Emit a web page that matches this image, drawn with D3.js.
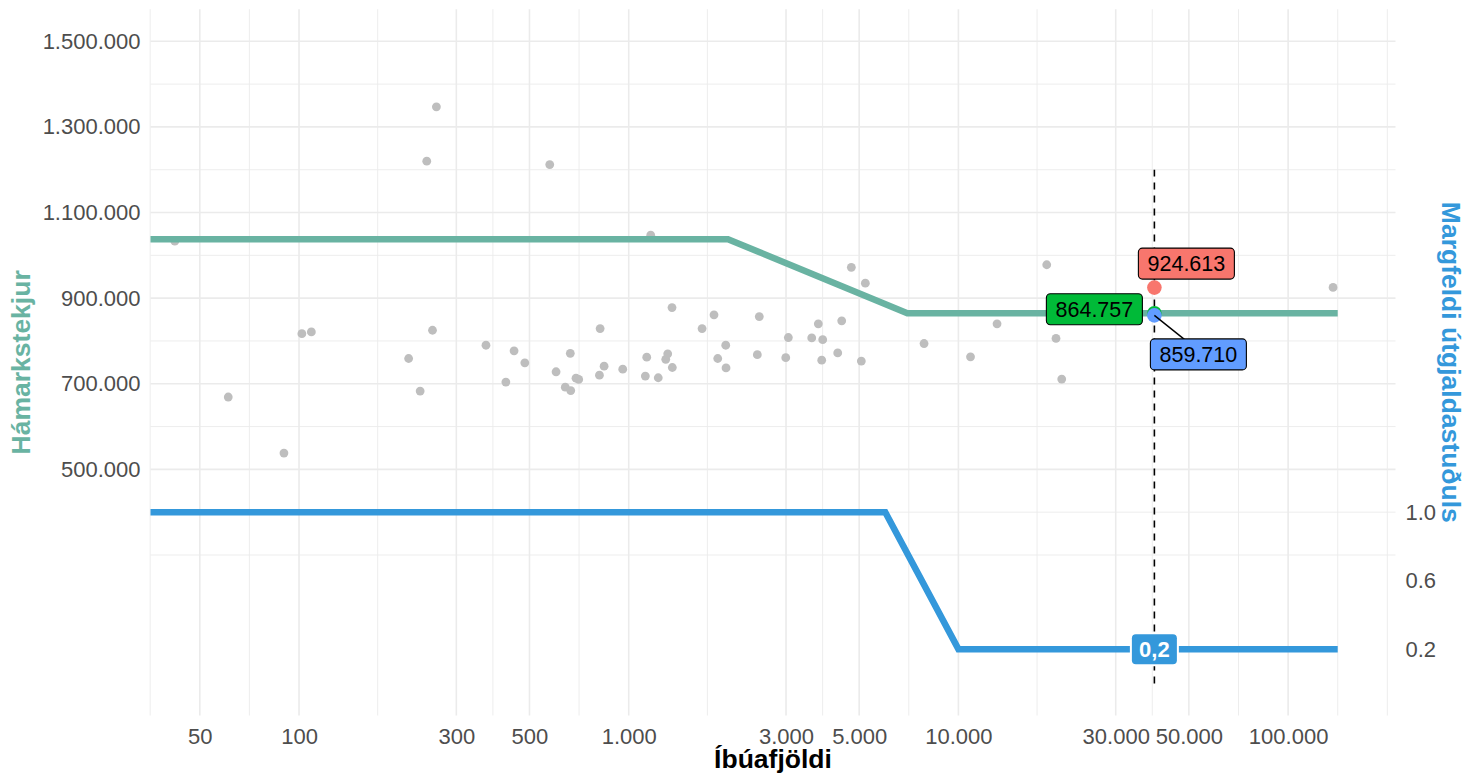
<!DOCTYPE html>
<html>
<head>
<meta charset="utf-8">
<script src="https://cdn.jsdelivr.net/npm/d3@7"></script>
<style>
  body { margin: 0; background: #fff; }
  text { font-family: "Liberation Sans", Arial, Helvetica, sans-serif; }
</style>
</head>
<body>
<script>
// municipalities: population vs max income
var population = [42, 61, 90, 102, 109, 215, 233, 244, 254, 261, 369, 424, 449, 484, 576,
  602, 642, 665, 667, 692, 705, 819, 815, 842, 959, 1123, 1134, 1166, 1229, 1295, 1313,
  1353, 1356, 1669, 1814, 1862, 1969, 1973, 2489, 2455, 2994, 3049, 3590, 3759, 3876,
  3849, 4304, 4426, 4734, 5220, 5076, 7866, 10882, 13096, 18530, 19770, 20575, 136860];
var income = [1033000, 669000, 538000, 817000, 821000, 759000, 683000, 1220000, 825000,
  1347000, 790000, 704000, 777000, 749000, 1212000, 728000, 692000, 771000, 684000, 713000,
  710000, 829000, 720000, 741000, 734000, 718000, 762000, 1047000, 714000, 757000, 770000,
  878000, 738000, 829000, 861000, 759000, 790000, 737000, 857000, 768000, 761000, 808000,
  807000, 840000, 803000, 755000, 772000, 847000, 972000, 935000, 753000, 794000, 763000,
  840000, 978000, 806000, 711000, 925000];

// rule lines
var capX = [35, 2000, 7000, 141400];
var capY = [1037708, 1037708, 864757, 864757];
var multX = [35, 6000, 10000, 141400];
var multY = [1, 1, 0.2, 0.2];

// highlighted municipality
var focusPop = 39300;
var focusVals = [924613, 864757, 859710];
var focusCols = ["#F8766D", "#00BA38", "#619CFF"];
var focusMult = 0.2;

var xTicks = [50, 100, 300, 500, 1000, 3000, 5000, 10000, 30000, 50000, 100000];
var yTicks = [500000, 700000, 900000, 1100000, 1300000, 1500000];
var y2Ticks = [0.2, 0.6, 1.0];
var secScale = 400000;

var W = 1465, H = 776;
var pL = 150.5, pR = 1395.5, pT = 9.2, pB = 715.5;

var is = d3.formatLocale({decimal: ",", thousands: ".", grouping: [3], currency: ["", ""]});
var fmt = is.format(",d");

var x = d3.scaleLog().domain([35.44, 211700]).range([pL, pR]);
var y = d3.scaleLinear().domain([-75000, 1575000]).range([pB, pT]);
var y2 = d3.scaleLinear().domain([-75000 / secScale, 1575000 / secScale]).range([pB, pT]);

var svg = d3.select("body").append("svg").attr("width", W).attr("height", H);

svg.append("defs").append("clipPath").attr("id", "panel")
  .append("rect").attr("x", pL).attr("y", pT)
  .attr("width", pR - pL).attr("height", pB - pT);

// grid: majors plus log-space midpoints (ggplot style)
var xl = xTicks.map(Math.log10);
var step = xl[1] - xl[0];
var xb = [xl[0] - step].concat(xl, [xl[xl.length - 1] + step]);
var xGrid = [];
xb.forEach(function (d, i) {
  xGrid.push(d);
  if (i < xb.length - 1) xGrid.push((d + xb[i + 1]) / 2);
});
xGrid = xGrid.map(function (d) { return Math.pow(10, d); })
  .filter(function (d) { return x(d) >= pL - 1 && x(d) <= pR; });
var yGrid = d3.range(300000, 1500001, 100000);

var grid = svg.append("g");
grid.selectAll("line.h").data(yGrid).enter().append("line")
  .attr("x1", pL).attr("x2", pR)
  .attr("y1", function (d) { return y(d); }).attr("y2", function (d) { return y(d); })
  .attr("stroke", "#ebebeb").attr("stroke-width", function (d) { return yTicks.indexOf(d) >= 0 ? 1.6 : 0.9; });
grid.selectAll("line.v").data(xGrid).enter().append("line")
  .attr("y1", pT).attr("y2", pB)
  .attr("x1", function (d) { return x(d); }).attr("x2", function (d) { return x(d); })
  .attr("stroke", "#ebebeb")
  .attr("stroke-width", function (d) {
    return xTicks.some(function (t) { return Math.abs(t - d) / t < 1e-6; }) ? 1.6 : 0.9;
  });

var panel = svg.append("g").attr("clip-path", "url(#panel)");

panel.selectAll("circle.pt").data(population).enter().append("circle")
  .attr("cx", function (d) { return x(d); })
  .attr("cy", function (d, i) { return y(income[i]); })
  .attr("r", 4.4).attr("fill", "#bebebe");

var capLine = d3.line().x(function (d) { return x(d[0]); }).y(function (d) { return y(d[1]); });
var multLine = d3.line().x(function (d) { return x(d[0]); }).y(function (d) { return y2(d[1]); });

panel.append("path").datum(d3.zip(capX, capY)).attr("d", capLine)
  .attr("fill", "none").attr("stroke", "#69b3a2").attr("stroke-width", 6.5);
panel.append("path").datum(d3.zip(multX, multY)).attr("d", multLine)
  .attr("fill", "none").attr("stroke", "#3498db").attr("stroke-width", 6.5);

// vertical marker
panel.append("line")
  .attr("x1", x(focusPop)).attr("x2", x(focusPop))
  .attr("y1", y(0)).attr("y2", y(1200000))
  .attr("stroke", "#000").attr("stroke-width", 1.6).attr("stroke-dasharray", "7,6");

// multiplier label
var mx = x(focusPop), my = y2(focusMult);
panel.append("rect").attr("x", mx - 22.5).attr("y", my - 15).attr("width", 45).attr("height", 30)
  .attr("rx", 4).attr("fill", "#3498db").attr("stroke", "#fff").attr("stroke-width", 4);
panel.append("rect").attr("x", mx - 22.5).attr("y", my - 15).attr("width", 45).attr("height", 30)
  .attr("rx", 4).attr("fill", "#3498db");
panel.append("text").attr("x", mx).attr("y", my + 8).attr("text-anchor", "middle")
  .attr("fill", "#fff").attr("font-weight", "bold").attr("font-size", 22)
  .text(is.format(".1f")(focusMult));

// highlighted points
panel.selectAll("circle.focus").data(focusVals).enter().append("circle")
  .attr("cx", x(focusPop)).attr("cy", function (d) { return y(d); })
  .attr("r", 7.3).attr("fill", function (d, i) { return focusCols[i]; });

// repelled labels (offsets in px from the point)
var offs = [[32, -24], [-60, -4], [44, 39]];
var fx = x(focusPop);
// connector for blue label
svg.append("line").attr("x1", fx).attr("y1", y(focusVals[2]))
  .attr("x2", fx + offs[2][0] - 14).attr("y2", y(focusVals[2]) + offs[2][1] - 15)
  .attr("stroke", "#000").attr("stroke-width", 1.4);
focusVals.forEach(function (v, i) {
  var cx = fx + offs[i][0], cy = y(v) + offs[i][1];
  svg.append("rect").attr("x", cx - 48).attr("y", cy - 15.5).attr("width", 96).attr("height", 31)
    .attr("rx", 4).attr("fill", focusCols[i]).attr("stroke", "#000").attr("stroke-width", 1.1);
  svg.append("text").attr("x", cx).attr("y", cy + 7.8).attr("text-anchor", "middle")
    .attr("font-size", 21.5).attr("fill", "#000").text(fmt(v));
});

// axes
var axX = svg.append("g").attr("transform", "translate(0," + pB + ")")
  .call(d3.axisBottom(x).tickValues(xTicks).tickFormat(fmt).tickSize(0).tickPadding(13));
var axY = svg.append("g").attr("transform", "translate(" + pL + ",0)")
  .call(d3.axisLeft(y).tickValues(yTicks).tickFormat(fmt).tickSize(0).tickPadding(10));
var axY2 = svg.append("g").attr("transform", "translate(" + pR + ",0)")
  .call(d3.axisRight(y2).tickValues(y2Ticks).tickFormat(d3.format(".1f")).tickSize(0).tickPadding(10));
[axX, axY, axY2].forEach(function (a) {
  a.select(".domain").remove();
  a.selectAll("text").attr("font-size", 22).attr("fill", "#4d4d4d")
    .attr("font-family", "Liberation Sans, Arial, sans-serif");
});

// axis titles
svg.append("text").attr("x", (pL + pR) / 2).attr("y", 768).attr("text-anchor", "middle")
  .attr("font-size", 26.5).attr("font-weight", "bold").attr("fill", "#000").text("Íbúafjöldi");
svg.append("text").attr("transform", "translate(30," + (pT + pB) / 2 + ") rotate(-90)")
  .attr("text-anchor", "middle").attr("font-size", 26.5).attr("font-weight", "bold")
  .attr("fill", "#69b3a2").text("Hámarkstekjur");
svg.append("text").attr("transform", "translate(1442," + (pT + pB) / 2 + ") rotate(90)")
  .attr("text-anchor", "middle").attr("font-size", 26.5).attr("font-weight", "bold")
  .attr("fill", "#3498db").text("Margfeldi útgjaldastuðuls");
</script>
</body>
</html>
